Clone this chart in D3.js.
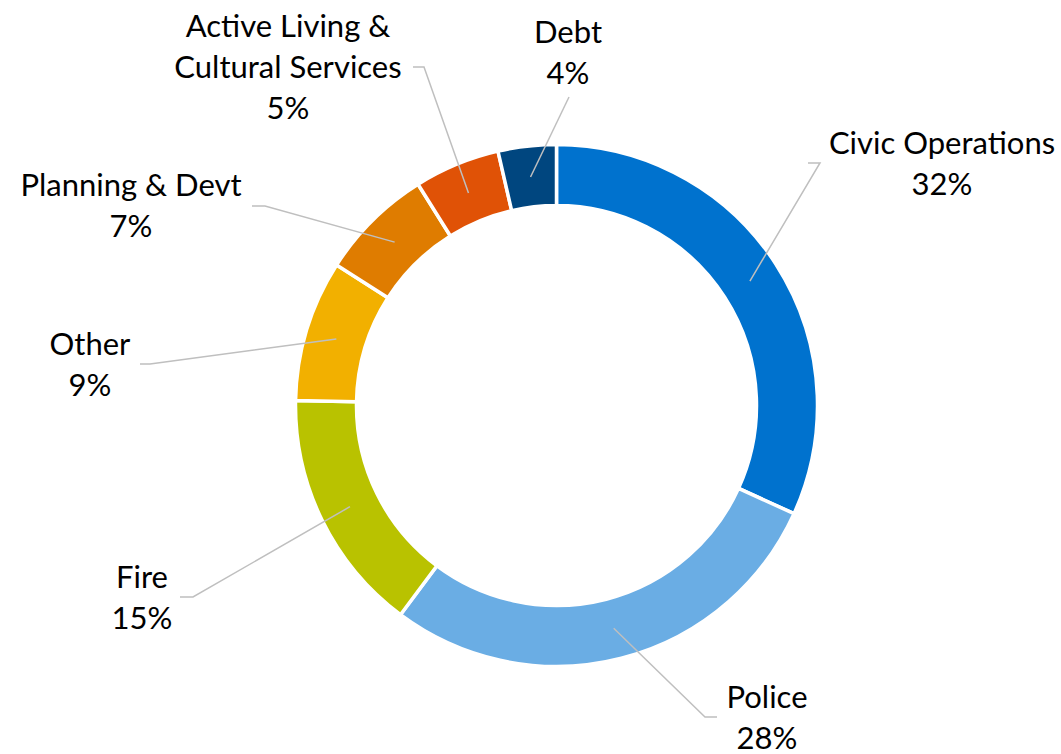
<!DOCTYPE html>
<html lang="en">
<head>
    <title>Budget donut</title>
    <meta charset="utf-8"/>
    <script src="https://d3js.org/d3.v7.min.js"></script>
    <style>
        body { margin: 0; background: #fff; }
        .lbl { font-family: Lato, "Open Sans", sans-serif; font-size: 31px; fill: #000; }
    </style>
</head>
<body>
<svg width="1061" height="754"></svg>

<script type="text/javascript">

    // datos (porcentajes estimados del gráfico; la etiqueta los redondea)
    const categories = ["Civic Operations", "Police", "Fire", "Other", "Planning & Devt",
        "Active Living & Cultural Services", "Debt"];
    const values = [31.8, 28.4, 15.1, 8.75, 7.05, 5.3, 3.6];
    const colors = ["#0072ce", "#6aade4", "#b9c200", "#f2b000", "#df7c00", "#e05206", "#00467f"];

    // etiquetas: líneas de texto
    const labelLines = [
        ["Civic Operations"],
        ["Police"],
        ["Fire"],
        ["Other"],
        ["Planning & Devt"],
        ["Active Living &", "Cultural Services"],
        ["Debt"]
    ];
    // centro x, línea base de la primera línea, codo y final de la línea guía
    const labelPos = [
        {x: 942, y: 154, elbow: [820, 163], end: 808},
        {x: 767, y: 708, elbow: [705, 717], end: 717},
        {x: 142, y: 588, elbow: [193, 597], end: 180},
        {x: 90, y: 355, elbow: [150, 364], end: 140},
        {x: 131, y: 196, elbow: [265, 206], end: 252},
        {x: 288, y: 37, elbow: [424, 67], end: 413},
        {x: 568, y: 43, elbow: [569, 97], end: 569}
    ];

    const cx = 556.5, cy = 405.5, rOuter = 261, rInner = 200, lineH = 41;

    const svg = d3.select("svg");
    const g = svg.append("g").attr("transform", "translate(" + cx + "," + cy + ")");

    const pie = d3.pie().sort(null).value(d => d.value);
    const data = categories.map((c, i) => ({name: c, value: values[i], color: colors[i], i: i}));
    const arcs = pie(data);

    const arc = d3.arc().innerRadius(rInner).outerRadius(rOuter);
    const midArc = d3.arc().innerRadius(230).outerRadius(230);

    // anillo
    g.selectAll("path.slice")
        .data(arcs)
        .join("path")
        .attr("class", "slice")
        .attr("d", arc)
        .attr("fill", d => d.data.color)
        .attr("stroke", "#fff")
        .attr("stroke-width", 3.5);

    // líneas guía
    arcs.forEach(function (d) {
        const p = labelPos[d.data.i];
        const c = midArc.centroid(d);
        const pts = [[c[0] + cx, c[1] + cy], p.elbow, [p.end, p.elbow[1]]];
        svg.append("polyline")
            .attr("points", pts.map(q => q.join(",")).join(" "))
            .attr("fill", "none")
            .attr("stroke", "#bfbfbf")
            .attr("stroke-width", 1.5);
    });

    // textos
    arcs.forEach(function (d) {
        const i = d.data.i;
        const p = labelPos[i];
        const lines = labelLines[i].concat([Math.round(d.data.value) + "%"]);
        const t = svg.append("text")
            .attr("class", "lbl")
            .attr("text-anchor", "middle");
        lines.forEach(function (s, k) {
            t.append("tspan")
                .attr("x", p.x)
                .attr("y", p.y + k * lineH)
                .text(s);
        });
    });

</script>
</body>
</html>
